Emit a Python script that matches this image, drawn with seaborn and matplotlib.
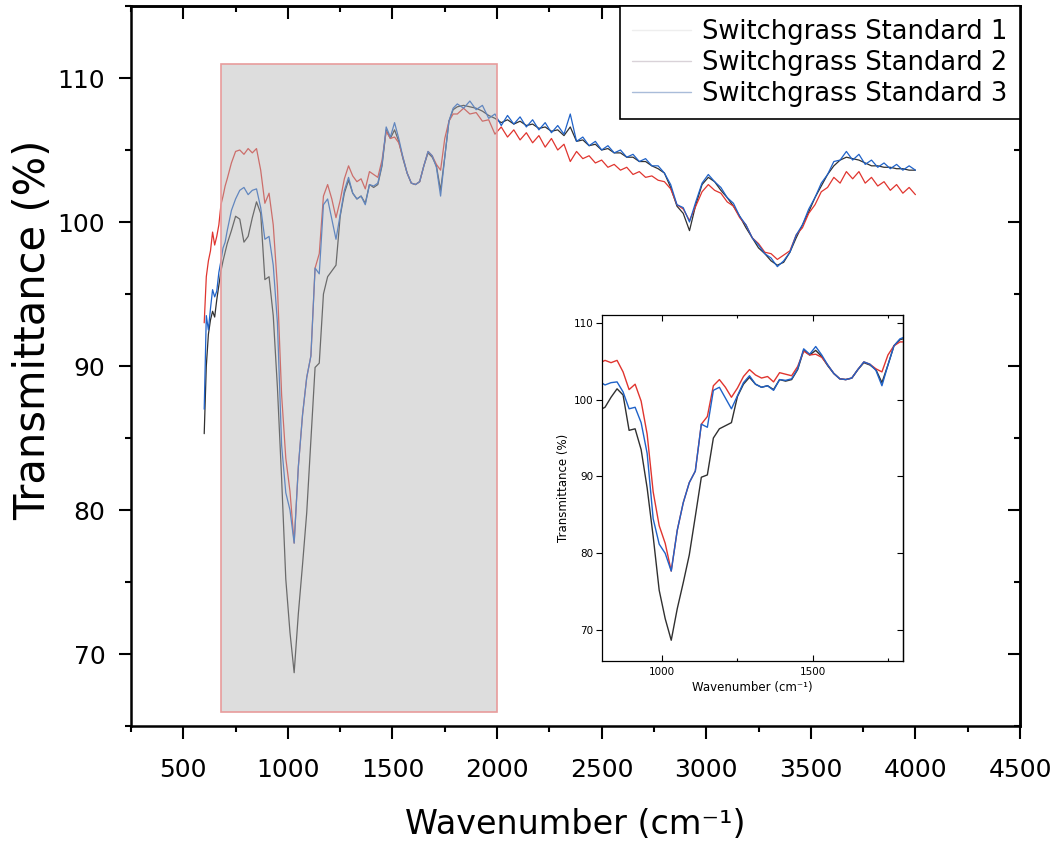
import matplotlib
matplotlib.use("Agg")
import matplotlib.pyplot as plt
from matplotlib.patches import Rectangle
from matplotlib.lines import Line2D
from matplotlib.ticker import MultipleLocator
import pandas as pd
import seaborn as sns

sns.set_theme(style="white")
plt.rcParams["font.family"] = ["DejaVu Sans"]
plt.rcParams["mathtext.fontset"] = "dejavusans"
for key in ["axes.edgecolor", "xtick.color", "ytick.color", "text.color",
            "axes.labelcolor", "xtick.labelcolor", "ytick.labelcolor"]:
    plt.rcParams[key] = "black"

# ---- spectra (wavenumber in cm^-1, transmittance in %) ----
wavenumber = (list(range(600, 701, 10))
              + list(range(710, 1791, 20))
              + list(range(1810, 4001, 30)))

std1 = [
    85.3, 90.0, 92.2, 93.2, 93.8, 93.4, 94.6, 95.6, 96.6, 97.3, 97.9,
    98.5, 99.4, 100.4, 100.2, 98.6, 99.0, 100.3, 101.4, 100.6, 96.0,
    96.2, 93.5, 88.5, 82.2, 75.2, 71.5, 68.7, 72.8, 76.2, 79.8,
    84.8, 89.9, 90.2, 95.0, 96.2, 96.6, 97.0, 100.4, 102.0, 102.9,
    102.0, 101.6, 101.8, 101.3, 102.6, 102.4, 102.6, 103.9, 106.4, 105.8,
    106.4, 105.6, 104.4, 103.4, 102.7, 102.6, 102.8, 103.9, 104.8, 104.5,
    103.9, 102.2, 104.5, 107.0, 107.8,
    108.0, 108.1, 108.0, 107.9, 107.7, 107.4, 107.2, 106.9, 107.1, 106.8,
    107.0, 106.7, 106.8, 106.5, 106.6, 106.3, 106.4, 106.0, 106.6, 105.6,
    105.7, 105.3, 105.4, 105.0, 105.1, 104.8, 104.8, 104.5, 104.5, 104.2,
    104.2, 103.9, 103.7, 103.4, 102.4, 101.1, 100.6, 99.4, 101.2, 102.6,
    103.1, 102.8, 102.2, 101.7, 101.1, 100.4, 99.6, 98.9, 98.2, 97.8,
    97.3, 97.0, 97.2, 97.9, 98.9, 99.8, 100.7, 101.7, 102.5, 103.3,
    103.9, 104.3, 104.5, 104.4, 104.3, 104.1, 103.9, 103.9, 103.8, 103.8,
    103.7, 103.7, 103.6, 103.6,
]

std2 = [
    93.0, 96.2, 97.3, 98.0, 99.3, 98.4, 99.0, 99.8, 101.2, 101.8, 102.5,
    103.0, 104.1, 104.9, 105.0, 104.7, 105.1, 104.8, 105.1, 103.6, 101.3,
    102.0, 99.8, 95.5, 88.0, 83.6, 81.3, 77.7, 83.0, 86.6, 89.2,
    90.7, 96.8, 97.8, 101.8, 102.6, 101.6, 100.3, 101.5, 103.0, 103.9,
    103.2, 102.8, 103.0, 102.3, 103.5, 103.3, 103.1, 104.3, 106.3, 105.8,
    105.9, 105.5, 104.5, 103.4, 102.7, 102.6, 102.8, 103.9, 104.9, 104.6,
    104.0, 103.6, 105.8, 107.0, 107.5,
    107.5, 107.9, 107.5, 107.6, 107.0, 107.1, 106.1, 106.6, 105.9, 106.4,
    105.7, 106.2, 105.5, 106.0, 105.2, 105.8, 105.0, 105.4, 104.2, 104.9,
    104.4, 104.6, 104.1, 104.3, 103.8, 104.0, 103.6, 103.8, 103.3, 103.5,
    103.1, 103.2, 102.9, 102.8, 102.3, 101.2, 100.9, 100.1, 101.1, 102.1,
    102.6, 102.2, 102.0, 101.4, 101.1, 100.3, 99.8, 98.9, 98.5, 97.9,
    97.8, 97.4, 97.7, 98.0, 99.1, 99.6, 100.6, 101.2, 102.1, 102.4,
    103.1, 102.7, 103.5, 103.0, 103.5, 102.7, 103.1, 102.5, 102.8, 102.2,
    102.6, 102.0, 102.4, 101.9,
]

std3 = [
    87.0, 93.5, 92.5, 94.0, 95.3, 94.8, 95.2, 96.5, 97.3, 98.2, 98.6,
    99.4, 100.8, 101.6, 102.2, 102.4, 101.9, 102.2, 102.3, 101.0, 98.8,
    99.0, 97.0, 93.0, 84.5, 81.2, 80.0, 77.7, 83.0, 86.6, 89.2,
    90.7, 96.8, 96.4, 101.2, 101.6, 100.2, 98.8, 100.5, 102.2, 103.1,
    102.0, 101.6, 101.8, 101.2, 102.6, 102.5, 102.7, 104.0, 106.6, 105.9,
    106.9, 105.8, 104.5, 103.4, 102.7, 102.6, 102.8, 103.9, 104.9, 104.6,
    103.8, 101.8, 104.5, 107.0, 107.9,
    108.2, 107.9, 108.4, 107.8, 108.1, 107.2, 107.5, 106.7, 107.4, 106.8,
    107.3, 106.6, 107.1, 106.4, 106.9, 106.2, 106.7, 106.1, 107.5, 105.6,
    105.9, 105.3, 105.6, 105.0, 105.3, 104.8, 105.0, 104.5, 104.7, 104.2,
    104.4, 103.9, 103.9, 103.4, 102.6, 101.2, 101.0, 100.0, 101.4, 102.7,
    103.3, 102.8, 102.4, 101.7, 101.3, 100.4, 99.8, 98.9, 98.4, 97.8,
    97.5, 96.9, 97.3, 97.9, 99.1, 99.8, 100.9, 101.7, 102.7, 103.3,
    104.2, 104.3, 104.9, 104.3, 104.7, 104.0, 104.3, 103.8, 104.1, 103.7,
    104.0, 103.6, 103.9, 103.6,
]

sample_names = ["Switchgrass Standard 1", "Switchgrass Standard 2",
                "Switchgrass Standard 3"]
line_colors = ["#303030", "#e0352f", "#1f62c8"]
legend_colors = ["#eeeeee", "#d9d2d8", "#a9bcd9"]

# zoomed window shown in the inset
window_x = [680, 2000]
window_y = [66, 111]

main_xticks = [500, 1000, 1500, 2000, 2500, 3000, 3500, 4000, 4500]
main_yticks = [70, 80, 90, 100, 110]
inset_xticks = [1000, 1500]
inset_yticks = [70, 80, 90, 100, 110]

spectra = pd.DataFrame({
    "wavenumber": wavenumber * 3,
    "transmittance": std1 + std2 + std3,
    "sample": ([sample_names[0]] * len(std1) + [sample_names[1]] * len(std2)
               + [sample_names[2]] * len(std3)),
})
palette = dict(zip(sample_names, line_colors))

fig = plt.figure(figsize=(10.6, 8.44), dpi=100)
ax = fig.add_axes([131 / 1060, 118 / 844, 889 / 1060, 720 / 844])

sns.lineplot(data=spectra, x="wavenumber", y="transmittance", hue="sample",
             palette=palette, hue_order=sample_names, estimator=None,
             sort=False, linewidth=0.9, legend=False, ax=ax)

ax.set_xlim(250, 4500)
ax.set_ylim(65, 115)
ax.set_xticks(main_xticks)
ax.set_yticks(main_yticks)
ax.xaxis.set_minor_locator(MultipleLocator(250))
ax.yaxis.set_minor_locator(MultipleLocator(5))
ax.tick_params(which="both", direction="out", bottom=True, left=True,
               top=False, right=False, width=1.5)
ax.tick_params(which="major", length=9, labelsize=18)
ax.tick_params(which="minor", length=4.5)
ax.tick_params(axis="x", pad=14)
ax.tick_params(axis="y", pad=9.5)
for s in ax.spines.values():
    s.set_linewidth(1.8)
    s.set_color("black")

# inward mirrored ticks on top and right edges
top = ax.secondary_xaxis("top")
top.set_xticks(main_xticks)
top.xaxis.set_minor_locator(MultipleLocator(250))
top.tick_params(which="both", direction="in", labeltop=False, width=1.5)
top.tick_params(which="major", length=9)
top.tick_params(which="minor", length=4.5)
top.spines["top"].set_linewidth(1.8)
right = ax.secondary_yaxis("right")
right.set_yticks(main_yticks)
right.yaxis.set_minor_locator(MultipleLocator(5))
right.tick_params(which="both", direction="in", labelright=False, width=1.5)
right.tick_params(which="major", length=9)
right.tick_params(which="minor", length=4.5)
right.spines["right"].set_linewidth(1.8)

ax.set_xlabel("Wavenumber (cm\u207b\u00b9)", fontsize=24, va="center")
ax.xaxis.set_label_coords(0.5, (726 - 825) / 720)
ax.set_ylabel("Transmittance (%)", fontsize=30, va="center")
ax.yaxis.set_label_coords((33 - 131) / 889, (726 - 330) / 720)

# translucent window marking the zoomed region
ax.add_patch(Rectangle((window_x[0], window_y[0]), window_x[1] - window_x[0],
                       window_y[1] - window_y[0], facecolor="#b4b4b4",
                       alpha=0.45, edgecolor="none", zorder=3))
ax.add_patch(Rectangle((window_x[0], window_y[0]), window_x[1] - window_x[0],
                       window_y[1] - window_y[0], facecolor="none",
                       edgecolor="#e89c9c", linewidth=1.2, zorder=3.1))

handles = [Line2D([], [], color=c, linewidth=1.0) for c in legend_colors]
leg = ax.legend(handles, sample_names, loc="upper right",
                bbox_to_anchor=(1, 1), borderaxespad=0, frameon=True,
                fancybox=False, framealpha=1, edgecolor="black",
                fontsize=18.5, handlelength=2.3, handletextpad=0.4,
                labelspacing=0.19, borderpad=0.5)
leg.get_frame().set_linewidth(1.2)
leg.set_zorder(6)

# ---- inset: fingerprint region ----
axin = fig.add_axes([602 / 1060, 183 / 844, 301 / 1060, 346 / 844])
sns.lineplot(data=spectra, x="wavenumber", y="transmittance", hue="sample",
             palette=palette, hue_order=sample_names, estimator=None,
             sort=False, linewidth=1.0, legend=False, ax=axin)
axin.set_xlim(800, 1800)
axin.set_ylim(66, 111)
axin.set_xticks(inset_xticks)
axin.set_yticks(inset_yticks)
axin.xaxis.set_minor_locator(MultipleLocator(250))
axin.tick_params(axis="x", which="both", direction="in", bottom=True,
                 top=True, width=0.8, labelsize=7.5, pad=4)
axin.tick_params(axis="x", which="major", length=4)
axin.tick_params(axis="x", which="minor", length=2.5)
axin.tick_params(axis="y", which="both", direction="out", left=True,
                 width=0.8, length=4, labelsize=7.5, pad=2)
axin_r = axin.secondary_yaxis("right")
axin_r.set_yticks(inset_yticks)
axin_r.tick_params(direction="in", labelright=False, width=0.8, length=4)
axin_r.spines["right"].set_linewidth(0.9)
for s in axin.spines.values():
    s.set_linewidth(0.9)
    s.set_color("black")
axin.set_xlabel("Wavenumber (cm\u207b\u00b9)", fontsize=8.5, labelpad=3)
axin.set_ylabel("Transmittance (%)", fontsize=8.5, labelpad=3)

fig.savefig("out.png", dpi=100)
